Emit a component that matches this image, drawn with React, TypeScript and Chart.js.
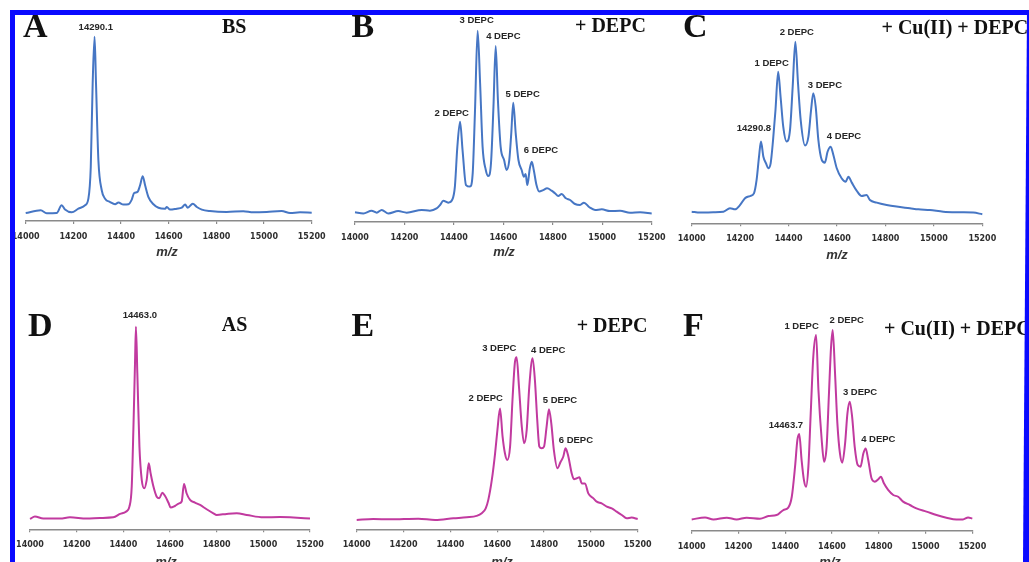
import React, { useEffect, useRef } from "react";
import { Chart, registerables } from "chart.js";

Chart.register(...registerables);

// ---------- data (relative intensity, base peak = 100) ----------
const X_TICKS = [14000, 14200, 14400, 14600, 14800, 15000, 15200];

const MZ_A = [14000, 14063, 14088, 14130, 14151, 14165, 14193, 14221, 14249, 14263, 14273, 14281, 14289, 14295, 14305, 14319, 14333, 14354, 14375, 14389, 14410, 14431, 14445, 14455, 14469, 14480, 14491, 14501, 14515, 14536, 14557, 14585, 14592, 14606, 14634, 14655, 14669, 14680, 14701, 14718, 14739, 14773, 14843, 14913, 14955, 15011, 15074, 15109, 15151, 15200];
const INT_A = [4.3, 5.8, 4.2, 4.3, 8.5, 6.2, 4.7, 6.7, 8.5, 12.1, 29.3, 74.6, 100, 74.6, 33, 16.7, 12.1, 10.3, 9.1, 10, 8.9, 9.1, 11.6, 15.2, 15.8, 19.4, 24.3, 19.4, 13, 9.1, 7.2, 6.7, 7.6, 6.2, 6.7, 7.2, 8.9, 7.2, 9.4, 7.6, 6.2, 5.4, 4.9, 5.3, 4.7, 4.9, 5.4, 4.3, 4.7, 4.5];

const MZ_B = [14000, 14034, 14067, 14088, 14108, 14135, 14175, 14209, 14270, 14303, 14330, 14344, 14357, 14377, 14394, 14404, 14414, 14425, 14435, 14449, 14465, 14476, 14485, 14496, 14506, 14516, 14529, 14539, 14550, 14560, 14569, 14578, 14589, 14603, 14613, 14624, 14632, 14640, 14650, 14661, 14674, 14683, 14690, 14697, 14707, 14715, 14723, 14734, 14745, 14761, 14777, 14795, 14809, 14822, 14836, 14853, 14870, 14890, 14910, 14926, 14948, 14971, 14998, 15031, 15072, 15112, 15153, 15200];
const INT_B = [5.1, 4.5, 5.9, 4.9, 6.3, 4.5, 5.7, 4.9, 6.3, 5.9, 7.1, 8.9, 11.1, 10.1, 11.8, 18.5, 39.4, 52.4, 37.6, 19.3, 18.5, 25.4, 56.8, 100, 72.5, 39.4, 27.2, 24, 30.7, 60.3, 92, 63.8, 39.4, 32.4, 27.2, 32.4, 46.3, 62.4, 46.3, 32.4, 27.2, 23.7, 25.1, 19.3, 28, 31.5, 27.2, 19.3, 15.9, 16.7, 17.6, 16.4, 15, 13.6, 14.6, 12.4, 11.5, 9.4, 8.9, 10.1, 7.7, 6.3, 6.6, 5.7, 5.9, 4.9, 5.1, 4.5];

const MZ_C = [14000, 14034, 14089, 14131, 14158, 14179, 14200, 14220, 14241, 14257, 14268, 14278, 14286, 14296, 14307, 14316, 14326, 14336, 14346, 14357, 14367, 14378, 14392, 14406, 14417, 14428, 14439, 14450, 14468, 14482, 14493, 14502, 14512, 14523, 14537, 14550, 14561, 14574, 14585, 14599, 14619, 14636, 14647, 14661, 14681, 14702, 14722, 14736, 14764, 14805, 14846, 14901, 14936, 14984, 15039, 15108, 15163, 15200];
const INT_C = [6.4, 5.9, 6.1, 6.4, 8.3, 7.7, 10.1, 13.8, 15, 16.5, 23.9, 36.7, 45, 36.7, 33, 30.3, 33, 45.9, 62.4, 83.5, 69.7, 53.2, 45, 51.4, 75.2, 100, 77.1, 56.9, 42.8, 47.7, 62.4, 71.6, 64.2, 45.9, 34.9, 33.4, 39.4, 42.2, 37.6, 30.3, 24.8, 22.9, 25.7, 22.4, 18, 15, 15.6, 12.8, 11.4, 10.1, 9.2, 8.3, 7.7, 7.3, 6.4, 6.1, 5.9, 5];

const MZ_D = [14000, 14021, 14057, 14129, 14171, 14243, 14300, 14357, 14386, 14411, 14426, 14436, 14443, 14450, 14454, 14460, 14469, 14479, 14490, 14500, 14509, 14517, 14529, 14543, 14554, 14567, 14579, 14593, 14603, 14621, 14639, 14650, 14660, 14671, 14686, 14707, 14729, 14757, 14786, 14800, 14843, 14886, 14929, 15000, 15071, 15129, 15200];
const INT_D = [5.1, 6.3, 5.3, 5.3, 5.9, 5.3, 5.6, 5.9, 7.6, 8.7, 11.2, 21.1, 49, 81.9, 100, 77, 40.8, 24.3, 20.2, 24.3, 32.6, 27.6, 21.1, 16.1, 15.3, 18.1, 16.4, 13.2, 10.7, 11.5, 12.8, 13.7, 22.4, 17.8, 14.5, 13.2, 12, 9.9, 7.9, 7.1, 7.6, 7.9, 7.1, 5.9, 6.1, 5.8, 5.3];

const MZ_E = [14000, 14071, 14142, 14263, 14335, 14413, 14470, 14512, 14534, 14551, 14562, 14577, 14591, 14601, 14612, 14623, 14633, 14643, 14655, 14666, 14676, 14683, 14693, 14705, 14715, 14726, 14737, 14751, 14761, 14771, 14780, 14790, 14800, 14811, 14821, 14831, 14842, 14857, 14871, 14882, 14892, 14904, 14918, 14928, 14940, 14951, 14961, 14975, 14989, 15011, 15025, 15046, 15068, 15089, 15110, 15132, 15153, 15174, 15200];
const INT_E = [5.4, 6, 5.8, 6.2, 5.4, 6.4, 7, 7.8, 9.3, 12.2, 17.1, 28.7, 44.2, 57.8, 70.3, 53.9, 44.2, 40.3, 48.1, 77.1, 97.5, 100, 82.9, 59.7, 50, 57.8, 82.9, 99.4, 86.8, 63.6, 48.1, 47.1, 48.1, 59.7, 69.8, 61.6, 46.1, 35.5, 39.3, 42.2, 47.1, 42.2, 32.6, 29.1, 29.7, 30.2, 26.7, 26.7, 20.9, 18, 16.1, 15.1, 13.2, 12.2, 10.3, 8.3, 6.4, 6.8, 6];

const MZ_F = [14000, 14057, 14093, 14150, 14192, 14235, 14292, 14328, 14363, 14392, 14413, 14428, 14442, 14452, 14460, 14470, 14480, 14489, 14499, 14509, 14520, 14532, 14542, 14556, 14566, 14577, 14587, 14596, 14603, 14613, 14623, 14634, 14644, 14656, 14666, 14676, 14686, 14697, 14710, 14722, 14734, 14744, 14755, 14769, 14783, 14798, 14809, 14822, 14840, 14862, 14883, 14904, 14933, 14961, 15004, 15047, 15089, 15132, 15160, 15182, 15200];
const INT_F = [5.6, 6.6, 5.6, 6.5, 5.6, 6.5, 6, 7.3, 7.8, 10.3, 11.5, 16.9, 31.9, 45.2, 48.2, 35.2, 25.2, 21.9, 31.9, 58.5, 86.7, 97.5, 70.1, 45.2, 34.4, 41.9, 68.4, 91.7, 100, 78.4, 53.5, 38.5, 33.9, 43.5, 58.5, 64.3, 56.8, 41.9, 32.7, 31.9, 38.5, 41, 35.2, 26.1, 24.4, 25.6, 26.9, 23.6, 20.3, 17.8, 16.9, 14.5, 12.8, 11.1, 9.5, 7.8, 6.5, 5.6, 5.6, 6.6, 6];

// peak annotations: text, m/z of label centre, intensity of label centre
const PEAKS_A = [{ text: "14290.1", mz: 14294, y: 104.8 }];
const PEAKS_B = [
  { text: "2 DEPC", mz: 14391, y: 56.8 },
  { text: "3 DEPC", mz: 14492, y: 105.6 },
  { text: "4 DEPC", mz: 14600, y: 96.9 },
  { text: "5 DEPC", mz: 14678, y: 66.7 },
  { text: "6 DEPC", mz: 14752, y: 37.3 },
];
const PEAKS_C = [
  { text: "14290.8", mz: 14257, y: 52.3 },
  { text: "1 DEPC", mz: 14330, y: 88.1 },
  { text: "2 DEPC", mz: 14434, y: 104.9 },
  { text: "3 DEPC", mz: 14550, y: 76.1 },
  { text: "4 DEPC", mz: 14629, y: 47.7 },
];
const PEAKS_D = [{ text: "14463.0", mz: 14471, y: 105.7 }];
const PEAKS_E = [
  { text: "2 DEPC", mz: 14551, y: 76.2 },
  { text: "3 DEPC", mz: 14609, y: 105.2 },
  { text: "4 DEPC", mz: 14818, y: 103.8 },
  { text: "5 DEPC", mz: 14868, y: 75.2 },
  { text: "6 DEPC", mz: 14936, y: 51.5 },
];
const PEAKS_F = [
  { text: "14463.7", mz: 14403, y: 52.3 },
  { text: "1 DEPC", mz: 14470, y: 101.6 },
  { text: "2 DEPC", mz: 14663, y: 104.6 },
  { text: "3 DEPC", mz: 14720, y: 68.8 },
  { text: "4 DEPC", mz: 14798, y: 45.5 },
];

// ---------- layout / style ----------
const BLUE = "#4676c4";
const MAGENTA = "#c13a9f";

type Peak = { text: string; mz: number; y: number };
type Panel = {
  mz: number[];
  int: number[];
  peaks: Peak[];
  color: string;
  x0: number;
  x1: number;
  axisY: number;
  topY: number;
};

const PANELS: Panel[] = [
  { mz: MZ_A, int: INT_A, peaks: PEAKS_A, color: BLUE, x0: 25.7, x1: 311.7, axisY: 221, topY: 36.7 },
  { mz: MZ_B, int: INT_B, peaks: PEAKS_B, color: BLUE, x0: 355, x1: 651.7, axisY: 222, topY: 30.7 },
  { mz: MZ_C, int: INT_C, peaks: PEAKS_C, color: BLUE, x0: 691.7, x1: 982.3, axisY: 223.3, topY: 41.7 },
  { mz: MZ_D, int: INT_D, peaks: PEAKS_D, color: MAGENTA, x0: 30, x1: 310, axisY: 529.3, topY: 326.7 },
  { mz: MZ_E, int: INT_E, peaks: PEAKS_E, color: MAGENTA, x0: 356.7, x1: 637.7, axisY: 529.3, topY: 357.3 },
  { mz: MZ_F, int: INT_F, peaks: PEAKS_F, color: MAGENTA, x0: 691.7, x1: 972.3, axisY: 530.7, topY: 330 },
];

type Label = { text: string; x: number; base: number; kind: "letter" | "title" | "axis" };
const TEXTS: Label[] = [
  { text: "A", x: 23, base: 37.5, kind: "letter" },
  { text: "B", x: 351.5, base: 37.5, kind: "letter" },
  { text: "C", x: 683, base: 37.5, kind: "letter" },
  { text: "D", x: 28, base: 336.7, kind: "letter" },
  { text: "E", x: 351.5, base: 336.7, kind: "letter" },
  { text: "F", x: 683, base: 336.7, kind: "letter" },
  { text: "BS", x: 222, base: 32.7, kind: "title" },
  { text: "+ DEPC", x: 575, base: 31.5, kind: "title" },
  { text: "+ Cu(II) + DEPC", x: 881.5, base: 34, kind: "title" },
  { text: "AS", x: 221.7, base: 331, kind: "title" },
  { text: "+ DEPC", x: 576.7, base: 331.7, kind: "title" },
  { text: "+ Cu(II) + DEPC", x: 884, base: 335, kind: "title" },
  { text: "m/z", x: 167, base: 256, kind: "axis" },
  { text: "m/z", x: 504, base: 256, kind: "axis" },
  { text: "m/z", x: 837, base: 259, kind: "axis" },
  { text: "m/z", x: 166, base: 566, kind: "axis" },
  { text: "m/z", x: 502, base: 566, kind: "axis" },
  { text: "m/z", x: 830, base: 566, kind: "axis" },
];

const TICK_FS = 8;
const TICK_LEN = 3;
const TICK_PAD = 8;
const PADX = 22;
const PADT = 30;
const PADB = 4;

const peakPlugin = (peaks: Peak[]) => ({
  id: "peakLabels",
  afterDatasetsDraw(chart: any) {
    const { ctx, scales } = chart;
    ctx.save();
    ctx.font = 'bold 9.5px "Liberation Sans", Arial, sans-serif';
    ctx.fillStyle = "#262626";
    ctx.textAlign = "center";
    ctx.textBaseline = "middle";
    peaks.forEach((pk) => {
      ctx.fillText(pk.text, scales.x.getPixelForValue(pk.mz), scales.y.getPixelForValue(pk.y));
    });
    ctx.restore();
  },
});

function Spectrum({ p }: { p: Panel }) {
  const ref = useRef<HTMLCanvasElement>(null);
  const axisH = TICK_LEN + 2 * TICK_PAD + TICK_FS * 1.2;
  const left = Math.floor(p.x0 - PADX);
  const width = Math.ceil(p.x1 + PADX) - left;
  const padL = p.x0 - left;
  const padR = width - (p.x1 - left);
  const top = Math.floor(p.topY - PADT);
  const padT = p.topY - top;
  const height = Math.ceil(p.axisY + axisH + PADB) - top;
  const padB = height - (p.axisY - top) - axisH;

  useEffect(() => {
    const chart = new Chart(ref.current as HTMLCanvasElement, {
      type: "line",
      data: {
        datasets: [
          {
            data: p.mz.map((m, i) => ({ x: m, y: p.int[i] })),
            borderColor: p.color,
            borderWidth: 2,
            pointRadius: 0,
            fill: false,
            cubicInterpolationMode: "monotone",
            clip: false,
          } as any,
        ],
      },
      options: {
        responsive: false,
        animation: false,
        events: [],
        layout: { padding: { left: padL, right: padR, top: padT, bottom: padB } },
        plugins: { legend: { display: false }, tooltip: { enabled: false } },
        scales: {
          x: {
            type: "linear",
            min: X_TICKS[0],
            max: X_TICKS[X_TICKS.length - 1],
            afterBuildTicks: (axis: any) => {
              axis.ticks = X_TICKS.map((v) => ({ value: v }));
            },
            ticks: {
              autoSkip: false,
              maxRotation: 0,
              padding: TICK_PAD,
              color: "#2f2f2f",
              font: { family: "DejaVu Sans", size: TICK_FS, weight: "bold" },
              callback: (v: any) => String(v),
            },
            grid: { drawOnChartArea: false, drawTicks: true, tickLength: TICK_LEN, color: "#8a8a8a", lineWidth: 1.2 },
            border: { display: true, color: "#8a8a8a", width: 1.5 },
          },
          y: { display: false, min: 0, max: 100 },
        },
      } as any,
      plugins: [peakPlugin(p.peaks)],
    });
    return () => chart.destroy();
  }, []);

  return (
    <canvas
      ref={ref}
      width={width}
      height={height}
      style={{ position: "absolute", left, top, width, height }}
    />
  );
}

function Text({ t }: { t: Label }) {
  let fs = 20;
  let family = '"Liberation Serif", "Times New Roman", serif';
  let style: any = "normal";
  let asc = 0.8375;
  let center = false;
  if (t.kind === "letter") fs = 34;
  if (t.kind === "axis") {
    fs = 13;
    family = '"Liberation Sans", Arial, sans-serif';
    style = "italic";
    asc = 0.8465;
    center = true;
  }
  return (
    <div
      style={{
        position: "absolute",
        left: t.x,
        top: t.base - asc * fs,
        fontFamily: family,
        fontSize: fs,
        fontWeight: "bold",
        fontStyle: style,
        lineHeight: `${fs}px`,
        whiteSpace: "nowrap",
        color: t.kind === "axis" ? "#333" : "#111",
        transform: center ? "translateX(-50%)" : undefined,
      }}
    >
      {t.text}
    </div>
  );
}

export default function App() {
  return (
    <div
      style={{
        position: "absolute",
        left: 0,
        top: 0,
        width: 1029,
        height: 562,
        overflow: "hidden",
        background: "#ffffff",
      }}
    >
      {PANELS.map((p, i) => (
        <Spectrum key={i} p={p} />
      ))}
      {TEXTS.map((t, i) => (
        <Text key={i} t={t} />
      ))}
      <div style={{ position: "absolute", left: 10, top: 10, width: 1019, height: 5, background: "#0a0aff" }} />
      <div style={{ position: "absolute", left: 10, top: 10, width: 5, height: 552, background: "#0a0aff" }} />
      <div
        style={{
          position: "absolute",
          left: 1022,
          top: 10,
          width: 7,
          height: 552,
          background: "#0a0aff",
          clipPath: "polygon(5px 0, 7px 0, 7px 100%, 1px 100%)",
        }}
      />
    </div>
  );
}
